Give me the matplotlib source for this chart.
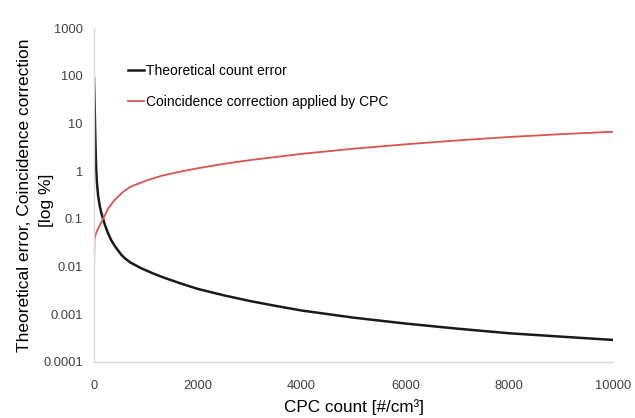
import matplotlib
matplotlib.use("Agg")
import matplotlib.pyplot as plt

plt.rcParams['font.family'] = ['Liberation Sans', 'DejaVu Sans']

# Theoretical count error [%] vs CPC concentration
error_count = [0, 10, 20, 30, 40, 55, 80, 110, 140, 175, 210, 270, 330, 400, 460, 530, 600,
               700, 910, 1150, 1360, 1650, 2000, 2500, 3000, 3500, 4000, 5000, 6000, 7000,
               8000, 9000, 10000]
error_pct = [90, 30, 9, 3, 1.3, 0.6, 0.3, 0.19, 0.135, 0.1, 0.075, 0.05, 0.036, 0.027,
             0.022, 0.0175, 0.0148, 0.0122, 0.0092, 0.0071, 0.0058, 0.0045, 0.0034, 0.0025,
             0.0019, 0.0015, 0.0012, 0.00085, 0.00064, 0.0005, 0.0004, 0.00034, 0.00029]

# Coincidence correction applied by the CPC [%]
corr_count = [0, 10, 40, 80, 175, 280, 400, 550, 700, 1000, 1300, 1650, 2000, 2500, 3000,
              3500, 4000, 5000, 6000, 7000, 8000, 9000, 10000]
corr_pct = [0.0095, 0.038, 0.05, 0.063, 0.1, 0.17, 0.25, 0.36, 0.47, 0.63, 0.8, 0.97,
            1.15, 1.42, 1.7, 1.98, 2.3, 2.95, 3.65, 4.4, 5.2, 5.95, 6.7]

x_ticks = [0, 2000, 4000, 6000, 8000, 10000]
y_ticks = [0.0001, 0.001, 0.01, 0.1, 1, 10, 100, 1000]
y_tick_labels = ['0.0001', '0.001', '0.01', '0.1', '1', '10', '100', '1000']

fig = plt.figure(figsize=(6.35, 4.18), dpi=100)
ax = fig.add_axes([94 / 635, 1 - 362 / 418, 519 / 635, 334 / 418])

ax.plot(error_count, error_pct, color='#1a1a1a', lw=1.8, label='Theoretical count error')
ax.plot(corr_count, corr_pct, color='#d9534f', lw=1.3, label='Coincidence correction applied by CPC')

ax.set_yscale('log')
ax.set_xlim(0, 10000)
ax.set_ylim(0.0001, 1000)
ax.set_xticks(x_ticks)
ax.set_xticklabels([str(v) for v in x_ticks])
ax.set_yticks(y_ticks)
ax.set_yticklabels(y_tick_labels)
ax.minorticks_off()
ax.tick_params(axis='both', length=0, labelsize=9.3, colors='#404040')
ax.tick_params(axis='y', pad=8)
ax.tick_params(axis='x', pad=13)

for side in ('top', 'right'):
    ax.spines[side].set_visible(False)
for side in ('left', 'bottom'):
    ax.spines[side].set_color('#d9d9d9')
    ax.spines[side].set_linewidth(1.0)

ax.set_xlabel('CPC count [#/cm³]', fontsize=12.3, labelpad=5)
ax.set_ylabel('Theoretical error, Coincidence correction', fontsize=12.5)
ax.yaxis.set_label_coords(-0.1195, 0.5)
ax.text(-0.0906, 0.485, '[log %]', transform=ax.transAxes, rotation=90,
        ha='center', va='center', fontsize=12.5)

leg = ax.legend(loc='upper left', bbox_to_anchor=(0.065, 0.893), frameon=False,
                fontsize=10, borderpad=0, borderaxespad=0, handlelength=1.15,
                handletextpad=0.15, labelspacing=1.25)

fig.savefig('out.png', dpi=100, facecolor='white')
